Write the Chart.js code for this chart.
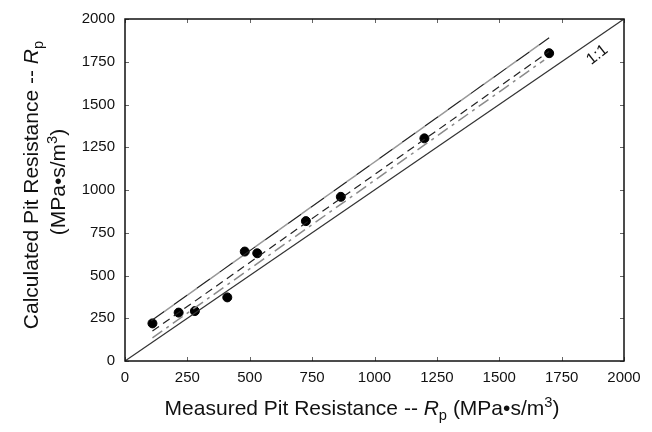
<!DOCTYPE html>
<html>
<head>
<meta charset="utf-8">
<script src="https://cdn.jsdelivr.net/npm/chart.js@4"></script>
<style>
  html, body { margin: 0; padding: 0; background: #fff; }
  #wrap { width: 652px; height: 432px; }
</style>
</head>
<body>
<div id="wrap"><canvas id="chart1"></canvas></div>
<script>
// measured vs calculated pit resistance, MPa.s/m3
const measuredRp = [110, 215, 280, 410, 480, 530, 725, 865, 1200, 1700];
const calculatedRp = [220, 283, 292, 372, 640, 630, 818, 960, 1302, 1800];

// reference lines (end points)
const oneToOneX = [0, 2000];
const oneToOneY = [0, 2000];
const upperX = [105, 1700];
const upperY = [235, 1890];
const fitX = [110, 1700];
const fitY = [175, 1810];
const lowerX = [110, 1680];
const lowerY = [135, 1760];

const axisTicks = [0, 250, 500, 750, 1000, 1250, 1500, 1750, 2000];
const oneToOneLabel = { x: 1893, y: 1790, text: "1:1" };

const FONT = "'Liberation Sans', Arial, Helvetica, sans-serif";

function pts(xs, ys) {
  return xs.map((x, i) => ({ x: x, y: ys[i] }));
}

function richWidth(ctx, parts, size) {
  let w = 0;
  parts.forEach(p => {
    ctx.font = fontFor(p, size);
    w += ctx.measureText(p.t).width;
  });
  return w;
}
function fontFor(p, size) {
  let s = (p.s === "sub" || p.s === "sup") ? size * 0.7 : size;
  return (p.s === "i" ? "italic " : "") + s + "px " + FONT;
}
// draws text pieces centred on x, baseline y, rotated by rot
function drawRich(ctx, parts, x, y, rot, size) {
  ctx.save();
  ctx.translate(x, y);
  ctx.rotate(rot);
  ctx.fillStyle = "#111";
  ctx.textBaseline = "alphabetic";
  ctx.textAlign = "left";
  let cx = -richWidth(ctx, parts, size) / 2;
  parts.forEach(p => {
    ctx.font = fontFor(p, size);
    let dy = 0;
    if (p.s === "sub") dy = size * 0.25;
    if (p.s === "sup") dy = -size * 0.4;
    ctx.fillText(p.t, cx, dy);
    cx += ctx.measureText(p.t).width;
  });
  ctx.restore();
}

const xTitle = [
  { t: "Measured Pit Resistance -- " }, { t: "R", s: "i" }, { t: "p", s: "sub" },
  { t: " (MPa\u2022s/m" }, { t: "3", s: "sup" }, { t: ")" }
];
const yTitle1 = [
  { t: "Calculated Pit Resistance -- " }, { t: "R", s: "i" }, { t: "p", s: "sub" }
];
const yTitle2 = [
  { t: "(MPa\u2022s/m" }, { t: "3", s: "sup" }, { t: ")" }
];

const framePlugin = {
  id: "frame",
  afterDraw(chart) {
    const ctx = chart.ctx;
    const a = chart.chartArea;
    const xs = chart.scales.x, ys = chart.scales.y;
    ctx.save();
    // inward ticks on all four sides
    ctx.strokeStyle = "#666";
    ctx.lineWidth = 1;
    ctx.beginPath();
    axisTicks.forEach(v => {
      const px = Math.round(xs.getPixelForValue(v)) + 0.5;
      const py = Math.round(ys.getPixelForValue(v)) + 0.5;
      ctx.moveTo(px, a.bottom); ctx.lineTo(px, a.bottom - 4);
      ctx.moveTo(px, a.top); ctx.lineTo(px, a.top + 4);
      ctx.moveTo(a.left, py); ctx.lineTo(a.left + 4, py);
      ctx.moveTo(a.right, py); ctx.lineTo(a.right - 4, py);
    });
    ctx.stroke();
    ctx.strokeStyle = "#111";
    ctx.lineWidth = 1.5;
    ctx.strokeRect(a.left, a.top, a.right - a.left, a.bottom - a.top);

    // 1:1 label along the diagonal
    ctx.fillStyle = "#111";
    ctx.font = "16px " + FONT;
    ctx.textAlign = "center";
    ctx.textBaseline = "middle";
    ctx.translate(xs.getPixelForValue(oneToOneLabel.x), ys.getPixelForValue(oneToOneLabel.y));
    ctx.rotate(-38 * Math.PI / 180);
    ctx.fillText(oneToOneLabel.text, 0, 0);
    ctx.restore();

    drawRich(ctx, xTitle, 362, 415, 0, 21);
    drawRich(ctx, yTitle1, 38, 185, -Math.PI / 2, 21);
    drawRich(ctx, yTitle2, 65, 182, -Math.PI / 2, 21);
  }
};

const ctx = document.getElementById("chart1").getContext("2d");

const myChart = new Chart(ctx, {
  type: "scatter",
  data: {
    datasets: [
      {
        label: "1:1",
        data: pts(oneToOneX, oneToOneY),
        showLine: true,
        borderColor: "#333",
        borderWidth: 1.2,
        pointRadius: 0,
      },
      {
        label: "upper (black)",
        data: pts(upperX, upperY),
        showLine: true,
        borderColor: "#222",
        borderWidth: 1.2,
        borderDash: [16, 12],
        pointRadius: 0,
      },
      {
        label: "upper (grey)",
        data: pts(upperX, upperY),
        showLine: true,
        borderColor: "#999",
        borderWidth: 1.5,
        borderDash: [12, 16],
        borderDashOffset: -16,
        pointRadius: 0,
      },
      {
        label: "fit",
        data: pts(fitX, fitY),
        showLine: true,
        borderColor: "#222",
        borderWidth: 1.2,
        borderDash: [8, 5],
        pointRadius: 0,
      },
      {
        label: "lower",
        data: pts(lowerX, lowerY),
        showLine: true,
        borderColor: "#8a8a8a",
        borderWidth: 1.5,
        borderDash: [12, 5, 3, 5],
        pointRadius: 0,
      },
      {
        label: "data",
        data: pts(measuredRp, calculatedRp),
        backgroundColor: "#000",
        borderColor: "#000",
        pointRadius: 4.5,
      }
    ],
  },
  options: {
    responsive: true,
    maintainAspectRatio: false,
    animation: false,
    layout: { padding: { left: 0, top: 13, right: 28, bottom: 0 } },
    plugins: {
      legend: { display: false },
      tooltip: { enabled: false },
    },
    scales: {
      x: {
        type: "linear",
        min: 0,
        max: 2000,
        afterBuildTicks: s => { s.ticks = axisTicks.map(v => ({ value: v })); },
        afterFit: s => { s.height = 71; },
        grid: { display: false, drawTicks: false },
        border: { display: false },
        ticks: {
          color: "#111", padding: 8, maxRotation: 0,
          font: { family: FONT, size: 15 },
          callback: v => String(v),
        },
      },
      y: {
        type: "linear",
        min: 0,
        max: 2000,
        afterBuildTicks: s => { s.ticks = axisTicks.map(v => ({ value: v })); },
        afterFit: s => { s.width = 125; },
        grid: { display: false, drawTicks: false },
        border: { display: false },
        ticks: {
          color: "#111", padding: 10,
          font: { family: FONT, size: 15 },
          callback: v => String(v),
        },
      },
    },
  },
  plugins: [framePlugin],
});
</script>
</body>
</html>
